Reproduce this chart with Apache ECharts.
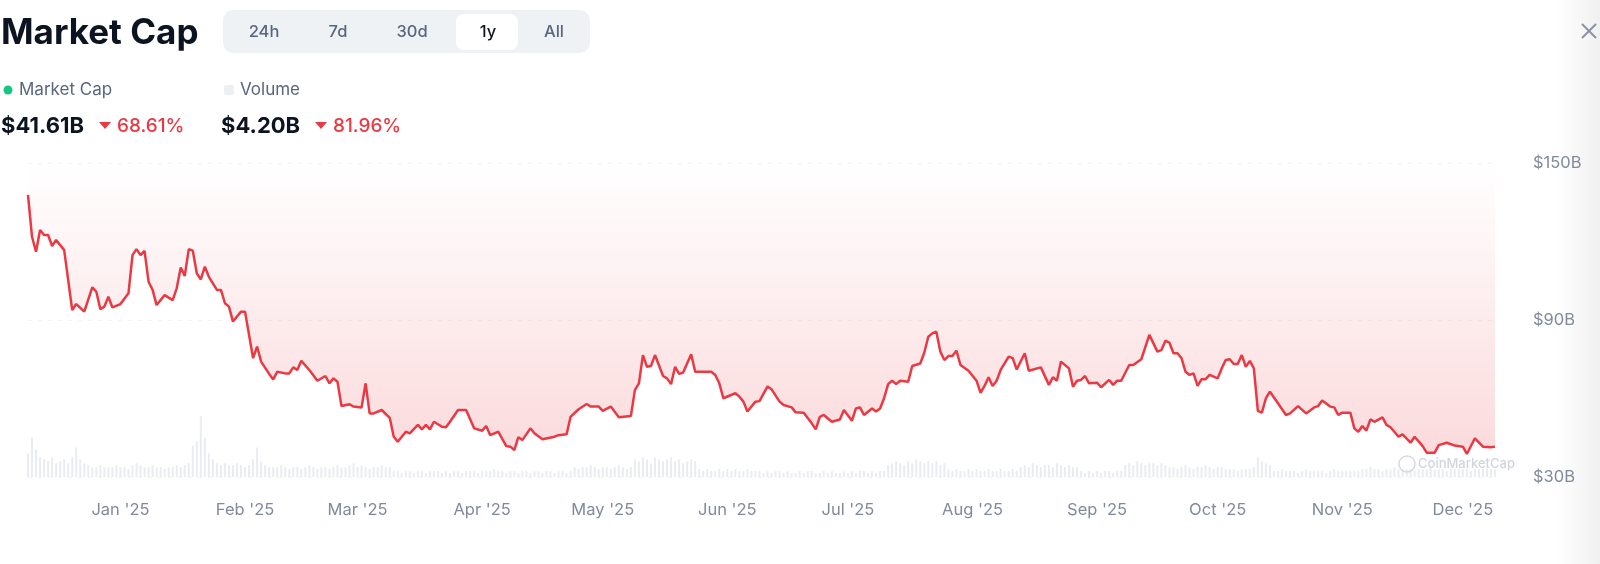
<!DOCTYPE html>
<html><head><meta charset="utf-8">
<script src="https://cdn.jsdelivr.net/npm/echarts@6/dist/echarts.min.js"></script>
<style>html,body{margin:0;padding:0;background:#fff}#c{width:1600px;height:564px}</style>
</head><body><div id="c"></div>
<script>
// ---- data ----
const startDate = '2024-12-09';
const endDate = '2025-12-09';
// [day offset from startDate, market cap in $B]
const mcapPoints = [
[0,137.8],[1,121.8],[2,116.1],[3,124.4],[4,122.5],[5,122.5],[6,118.3],[7,120.6],[9,116.7],[11,93.8],
[12,96.1],[14,93.2],[16,102.5],[17,100.8],[18,94.1],[19,95.1],[20,98.9],[21,94.8],[23,96.1],[25,100.2],
[26,114.8],[27,117.1],[28,114.8],[29,116.4],[30,104.6],[31,101.5],[32,95.7],[34,99.5],[36,97.6],[37,102.1],
[38,110.1],[39,106.8],[40,117.1],[41,116.5],[42,107.8],[43,105.5],[44,110.4],[45,106.5],[47,101.5],[48,101.5],
[49,96.4],[50,95.1],[51,89.4],[53,93.2],[54,93.2],[56,75.4],[57,79.8],[58,74.1],[60,69.4],[61,67.3],
[62,70.2],[64,69.6],[65,69.6],[66,71.9],[67,70.9],[68,74.4],[70,70.9],[72,66.8],[74,68.6],[75,65.8],
[76,67.7],[77,66.4],[78,57.1],[80,57.8],[81,56.9],[83,56.6],[84,65.8],[85,54.3],[86,54.3],[88,55.6],
[90,52.6],[91,45.4],[92,43.5],[94,47.3],[95,46.7],[97,49.9],[98,48.2],[99,49.9],[100,48.2],[101,51.1],
[103,49.2],[104,49.0],[105,51.1],[107,55.6],[109,55.6],[111,48.6],[113,47.7],[114,49.5],[115,46.0],[117,47.3],
[119,41.8],[120,41.6],[121,40.3],[122,45.2],[123,44.1],[125,48.6],[126,46.7],[128,44.4],[131,45.4],[132,46.0],
[134,46.3],[135,53.0],[137,55.9],[139,57.9],[140,56.9],[142,56.9],[143,55.3],[145,56.9],[147,52.8],[150,53.3],
[151,63.2],[152,65.8],[153,76.6],[154,72.1],[155,72.4],[156,76.6],[158,68.6],[159,67.7],[160,65.5],[161,72.1],
[162,69.4],[163,69.9],[165,76.9],[166,70.2],[170,70.2],[171,69.0],[172,65.8],[173,60.1],[176,62.0],[177,60.7],
[178,58.8],[179,55.0],[181,58.8],[182,59.0],[184,64.6],[185,63.5],[187,58.8],[188,57.5],[190,56.6],[191,54.7],
[193,54.6],[195,50.5],[196,48.2],[197,53.0],[198,53.7],[200,51.1],[202,52.0],[203,55.6],[205,51.5],[206,56.2],
[207,56.6],[208,53.7],[210,56.2],[211,55.0],[212,56.2],[213,60.1],[214,65.5],[215,66.8],[216,65.5],[217,66.8],
[219,66.4],[220,72.4],[222,73.4],[223,77.5],[224,83.6],[225,84.9],[226,85.5],[227,77.9],[228,74.7],[229,76.2],
[230,76.2],[231,78.3],[232,72.8],[234,70.6],[236,66.8],[237,62.2],[238,64.8],[239,68.1],[240,64.8],[241,66.8],
[242,70.9],[244,76.0],[245,75.4],[246,71.1],[248,77.3],[249,70.6],[252,71.9],[254,65.2],[255,68.1],[256,66.8],
[257,74.1],[259,71.5],[260,64.5],[261,66.8],[262,67.1],[263,68.6],[264,65.8],[266,66.0],[267,64.3],[269,67.1],
[270,65.2],[271,66.8],[272,66.8],[274,72.8],[275,72.8],[277,75.0],[279,84.3],[281,77.9],[282,78.5],[283,82.1],
[284,81.3],[285,77.3],[286,77.3],[287,75.4],[288,70.2],[289,69.0],[290,69.6],[291,64.8],[292,67.4],[293,67.4],
[294,69.0],[296,67.7],[297,71.5],[298,74.7],[299,75.0],[300,73.2],[301,73.2],[302,76.6],[303,72.1],[304,74.4],
[305,71.5],[306,55.3],[307,54.6],[308,60.1],[309,62.6],[311,58.2],[313,53.7],[314,54.3],[316,57.1],[318,54.3],
[320,56.6],[321,57.1],[322,59.2],[324,56.9],[325,56.6],[326,53.7],[327,54.6],[329,54.6],[330,48.6],[331,47.3],
[332,49.5],[333,47.7],[334,52.0],[335,51.1],[337,52.8],[338,49.9],[339,49.0],[341,45.4],[342,46.3],[344,43.1],
[345,45.4],[347,41.8],[348,39.3],[350,39.3],[351,42.2],[353,43.1],[355,42.0],[357,41.6],[358,38.8],[360,44.8],
[362,41.6],[364,41.4],[365,41.61]
];
// daily volume in $B, from startDate
const volume = [
12,20,14,10,9,8,10,7,8,9,7,
10,15,9,7,6,5,5,6,5,5,
5,6,5,5,4,6,7,6,5,5,6,5,5,4,5,5,6,5,6,7,
16,18,31,20,12,9,7,6,7,6,
6,7,6,5,6,9,15,8,6,5,
5,5,6,5,4,5,5,4,5,6,5,4,5,5,4,5,6,5,5,6,7,5,6,5,4,5,5,6,5,5,
3,3,2,3,3,2,3,3,2,3,3,3,2,3,2,3,3,2,3,3,3,2,3,3,3,4,3,3,2,3,3,2,3,3,2,3,3,2,3,3,2,3,3,2,3,
5,4,5,5,6,5,4,5,5,4,5,6,5,4,5,
9,8,10,9,7,10,9,8,9,10,8,9,7,8,9,8,
4,3,4,3,3,4,3,4,3,4,3,3,4,3,3,
3,2,3,2,3,3,2,3,2,2,3,2,3,3,2,2,3,2,3,2,2,3,2,3,2,3,3,2,3,2,3,3,
6,7,8,7,6,8,7,9,8,7,8,7,8,6,7,
4,3,4,3,3,4,3,4,3,3,4,3,3,4,3,3,4,3,
5,6,5,7,6,5,6,6,5,7,6,5,6,5,5,
3,2,3,2,3,2,3,3,2,3,3,
6,7,6,8,7,6,7,7,6,7,6,
5,5,4,5,6,5,4,5,5,6,5,4,5,5,4,
4,4,3,4,4,4,5,
10,8,7,6,
3,3,4,3,3,3,2,3,4,3,3,3,3,2,3,4,3,3,3,3,3,3,
4,4,5,4,4,3,4,4,5,4,4,4,4,3,4,4,4,5,4,4,4,3,4,4,4,4,4,3,4,4,4,4,4,4
];
const monthTicks = ['2025-01-01','2025-02-01','2025-03-01','2025-04-01','2025-05-01','2025-06-01',
  '2025-07-01','2025-08-01','2025-09-01','2025-10-01','2025-11-01','2025-12-01'];
const monthLabels = ["Jan '25","Feb '25","Mar '25","Apr '25","May '25","Jun '25",
  "Jul '25","Aug '25","Sep '25","Oct '25","Nov '25","Dec '25"];
const tabs = ['24h','7d','30d','1y','All'];

// ---- build ----
const DAY = 86400000;
const t0 = Date.parse(startDate);
const spanDays = Math.round((Date.parse(endDate) - t0) / DAY);
const tickDays = monthTicks.map(d => Math.round((Date.parse(d) - t0) / DAY));
const volData = volume.map((v, i) => [i, v]);

const FONT = 'Inter, "Noto Sans", sans-serif';
const chart = echarts.init(document.getElementById('c'), null, {renderer: 'canvas'});

const tabX = [264, 338, 412, 488, 554];
const graphics = [
  {type:'text', style:{text:'Market Cap', x:1, y:33, textVerticalAlign:'middle', font:'700 35px ' + FONT, fill:'#0d1421'}},
  {type:'rect', shape:{x:223, y:10, width:367, height:43, r:10}, style:{fill:'#eff2f5'}},
  {type:'rect', shape:{x:456, y:14, width:62, height:36, r:8}, style:{fill:'#ffffff'}},
];
tabs.forEach((t, i) => graphics.push({type:'text', style:{text:t, x:tabX[i], y:32, textAlign:'center', textVerticalAlign:'middle',
  font:'500 16.5px ' + FONT, fill: t === '1y' ? '#0d1421' : '#58667e'}}));
graphics.push(
  {type:'circle', shape:{cx:8, cy:90, r:4.5}, style:{fill:'#16c784'}},
  {type:'text', style:{text:'Market Cap', x:19, y:90, textVerticalAlign:'middle', font:'400 17px ' + FONT, fill:'#58667e'}},
  {type:'rect', shape:{x:224, y:85, width:10, height:10, r:2}, style:{fill:'#eceff3'}},
  {type:'text', style:{text:'Volume', x:240, y:90, textVerticalAlign:'middle', font:'400 17px ' + FONT, fill:'#58667e'}},
  {type:'text', style:{text:'$41.61B', x:1, y:126, textVerticalAlign:'middle', font:'700 22px ' + FONT, fill:'#0d1421'}},
  {type:'polygon', shape:{points:[[99,122],[111,122],[105,129]]}, style:{fill:'#ea3943'}},
  {type:'text', style:{text:'68.61%', x:117, y:126, textVerticalAlign:'middle', font:'500 19px ' + FONT, fill:'#ea3943'}},
  {type:'text', style:{text:'$4.20B', x:221, y:126, textVerticalAlign:'middle', font:'700 22px ' + FONT, fill:'#0d1421'}},
  {type:'polygon', shape:{points:[[315,122],[327,122],[321,129]]}, style:{fill:'#ea3943'}},
  {type:'text', style:{text:'81.96%', x:333, y:126, textVerticalAlign:'middle', font:'500 19px ' + FONT, fill:'#ea3943'}},
  {type:'line', shape:{x1:1582, y1:24, x2:1596, y2:38}, style:{stroke:'#8a93a6', lineWidth:2}},
  {type:'line', shape:{x1:1596, y1:24, x2:1582, y2:38}, style:{stroke:'#8a93a6', lineWidth:2}},
  {type:'rect', shape:{x:1555, y:0, width:45, height:564},
    style:{fill:new echarts.graphic.LinearGradient(0,0,1,0,[{offset:0,color:'rgba(0,0,0,0)'},{offset:1,color:'rgba(0,0,0,0.06)'}])}, z:-1},
  {type:'circle', shape:{cx:1407, cy:464, r:8}, style:{fill:'none', stroke:'#d5d9e0', lineWidth:1.5}, z:10},
  {type:'text', style:{text:'CoinMarketCap', x:1418, y:464, textVerticalAlign:'middle', font:'500 13px ' + FONT, fill:'#d0d4dc'}, z:10}
);

chart.setOption({
  animation: false,
  backgroundColor: '#ffffff',
  grid: {left: 28, right: 105, top: 163, bottom: 87, containLabel: false},
  xAxis: {
    type: 'value', min: 0, max: spanDays,
    axisLine: {show: false}, axisTick: {show: false}, splitLine: {show: false},
    axisLabel: {
      customValues: tickDays,
      formatter: (v) => { const i = tickDays.indexOf(Math.round(+v)); return i >= 0 ? monthLabels[i] : ''; },
      color: '#808a9d', fontSize: 16.5, fontFamily: FONT, margin: 25, hideOverlap: false
    }
  },
  yAxis: [{
    type: 'value', position: 'right', min: 30, max: 150, interval: 60,
    axisLine: {show: false}, axisTick: {show: false},
    axisLabel: {formatter: v => '$' + v + 'B', color: '#808a9d', fontSize: 16.5, fontFamily: FONT, margin: 38},
    splitLine: {show: true, lineStyle: {color: '#f1f3f6', type: [4, 6], width: 1}}
  }, {
    type: 'value', min: 0, max: 160, show: false, splitLine: {show: false}
  }],
  series: [{
    type: 'bar', yAxisIndex: 1, data: volData, barWidth: 2, silent: true, z: 1,
    itemStyle: {color: '#e9ecf1'}
  }, {
    type: 'line', data: mcapPoints, showSymbol: false, z: 3,
    lineStyle: {color: '#ea3943', width: 2.5},
    areaStyle: {
      origin: 'end',
      color: new echarts.graphic.LinearGradient(0, 163, 0, 470, [
        {offset: 0, color: 'rgba(234,57,67,0.0)'},
        {offset: 1, color: 'rgba(234,57,67,0.28)'}
      ], true)
    }
  }],
  graphic: graphics
});
</script></body></html>
